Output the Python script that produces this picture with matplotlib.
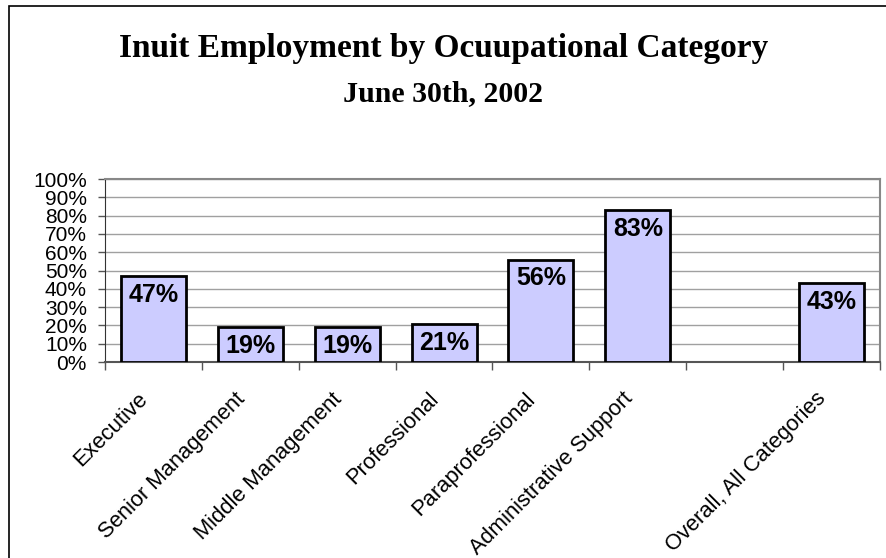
import matplotlib.pyplot as plt
import matplotlib.patches as patches
import matplotlib.transforms as mtransforms
import numpy as np

categories = ["Executive", "Senior Management", "Middle Management", "Professional",
              "Paraprofessional", "Administrative Support", "", "Overall, All Categories"]
values = [47, 19, 19, 21, 56, 83, None, 43]
yticks = list(range(0, 101, 10))

W, H = 887, 558
fig = plt.figure(figsize=(W / 100, H / 100), dpi=100)

# outer chart border (cropped at right/bottom in reference)
fig.patches.append(patches.Rectangle((9 / W, -0.05), 1.2, 1 - 6 / H + 0.05,
                                     transform=fig.transFigure, fill=False,
                                     edgecolor="black", linewidth=1.2))

fig.text(0.5, 1 - 48 / H, "Inuit Employment by Ocuupational Category", ha="center", va="center",
         fontsize=24, fontweight="bold", family="Liberation Serif")
fig.text(0.5, 1 - 94 / H, "June 30th, 2002", ha="center", va="center",
         fontsize=21.5, fontweight="bold", family="Liberation Serif")

ax = fig.add_axes([105 / W, 1 - 362 / H, (880 - 105) / W, (362 - 179) / H])

x = np.arange(len(categories))
for i, v in enumerate(values):
    if v is None:
        continue
    ax.bar(x[i], v, width=0.67, color="#CCCCFF", edgecolor="black", linewidth=2, zorder=3)
    ax.annotate(f"{v}%", (x[i], v), xytext=(0, -5), textcoords="offset points",
                ha="center", va="top", fontsize=18, fontweight="bold",
                family="Liberation Sans", zorder=4)

ax.set_xlim(-0.5, len(categories) - 0.5)
ax.set_ylim(0, 100)
ax.set_yticks(yticks)
ax.set_yticklabels([f"{t}%" for t in yticks], family="Liberation Sans", fontsize=15)
ax.yaxis.grid(True, color="#A0A0A0", linewidth=1, zorder=0)
ax.tick_params(axis="y", length=5, width=1, pad=8, color="#555555")

ax.set_xticks(x)
ax.set_xticklabels(categories, rotation=45, ha="right", rotation_mode="anchor",
                   family="Liberation Sans", fontsize=15.8)
ax.tick_params(axis="x", which="major", length=0, pad=19)
shift = mtransforms.ScaledTranslation(-16 / 100, 0, fig.dpi_scale_trans)
for lab in ax.get_xticklabels():
    lab.set_transform(lab.get_transform() + shift)
ax.set_xticks(np.arange(-0.5, len(categories)), minor=True)
ax.tick_params(axis="x", which="minor", length=6, width=1, color="#555555")

for s in ["top", "right"]:
    ax.spines[s].set_color("#888888")
    ax.spines[s].set_linewidth(1.5)
ax.spines["left"].set_color("#333333")
ax.spines["bottom"].set_color("#555555")
ax.spines["bottom"].set_linewidth(1.5)

fig.savefig("out.png", dpi=100)
